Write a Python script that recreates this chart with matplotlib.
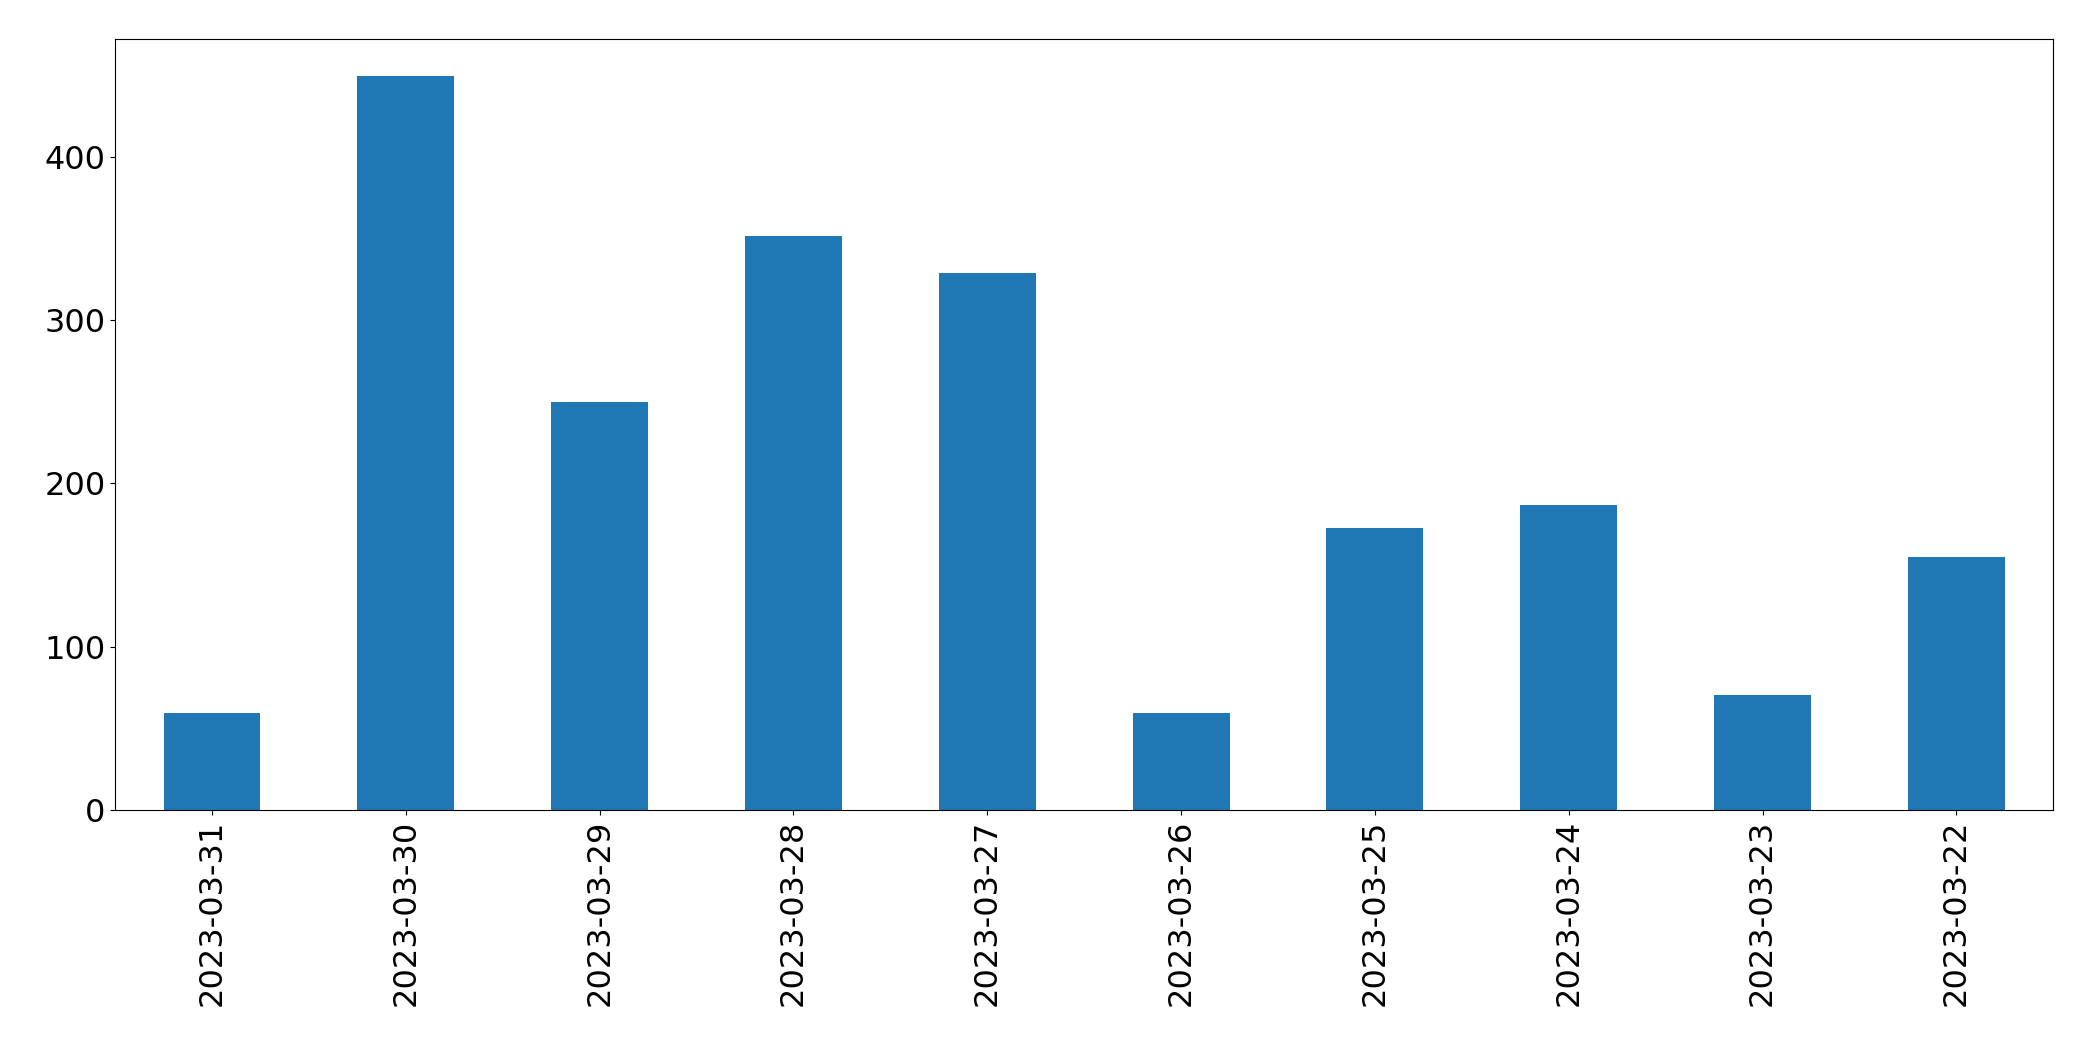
import matplotlib
matplotlib.use("Agg")
import matplotlib.pyplot as plt

dates = ["2023-03-31", "2023-03-30", "2023-03-29", "2023-03-28", "2023-03-27",
         "2023-03-26", "2023-03-25", "2023-03-24", "2023-03-23", "2023-03-22"]
values = [59, 450, 250, 352, 329, 59, 173, 187, 70, 155]

fig = plt.figure(figsize=(20.93, 10.61), dpi=100)
ax = fig.add_axes([0.055, 0.237, 0.926, 0.726])
x = list(range(len(dates)))
ax.bar(x, values, width=0.5, color="#1f77b4")
ax.set_xlim(-0.5, len(dates) - 0.5)
ax.set_xticks(x)
ax.set_xticklabels(dates, rotation=90)
ax.tick_params(labelsize=23)
fig.savefig("out.png", dpi=100)
